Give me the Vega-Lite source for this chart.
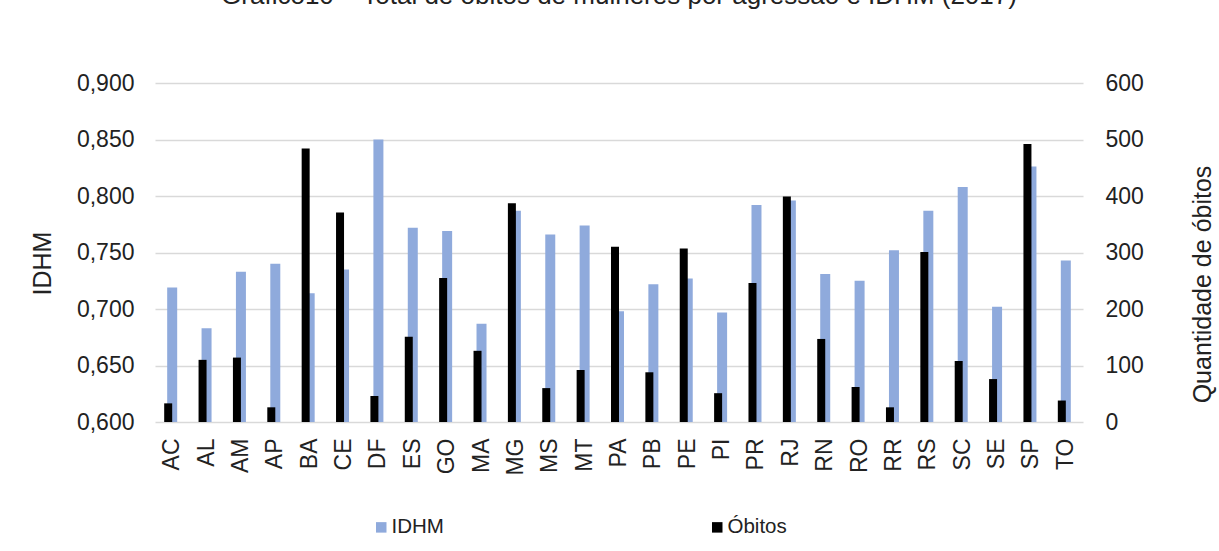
{
  "$schema": "https://vega.github.io/schema/vega-lite/v6.json",
  "autosize": {"type": "none"},
  "width": 928,
  "height": 339,
  "padding": {"left": 155, "top": 83, "right": 136, "bottom": 129},
  "background": "white",
  "title": {
    "text": "Gráfico10 – Total de óbitos de mulheres por agressão e IDHM (2017)",
    "anchor": "middle",
    "fontSize": 26,
    "fontWeight": "normal",
    "color": "#222222",
    "offset": 63
  },
  "config": {
    "font": "Liberation Sans",
    "view": {"stroke": null},
    "axis": {
      "labelColor": "#222222",
      "titleColor": "#222222",
      "titleFontWeight": "normal",
      "domain": false,
      "ticks": false
    }
  },
  "data": {
    "values": [
      {"uf": "AC", "idhm": 0.719, "obitos": 33},
      {"uf": "AL", "idhm": 0.683, "obitos": 110},
      {"uf": "AM", "idhm": 0.733, "obitos": 114},
      {"uf": "AP", "idhm": 0.740, "obitos": 26},
      {"uf": "BA", "idhm": 0.714, "obitos": 484},
      {"uf": "CE", "idhm": 0.735, "obitos": 371},
      {"uf": "DF", "idhm": 0.850, "obitos": 46},
      {"uf": "ES", "idhm": 0.772, "obitos": 151},
      {"uf": "GO", "idhm": 0.769, "obitos": 255},
      {"uf": "MA", "idhm": 0.687, "obitos": 126},
      {"uf": "MG", "idhm": 0.787, "obitos": 387},
      {"uf": "MS", "idhm": 0.766, "obitos": 60},
      {"uf": "MT", "idhm": 0.774, "obitos": 92},
      {"uf": "PA", "idhm": 0.698, "obitos": 310},
      {"uf": "PB", "idhm": 0.722, "obitos": 88},
      {"uf": "PE", "idhm": 0.727, "obitos": 307},
      {"uf": "PI", "idhm": 0.697, "obitos": 51},
      {"uf": "PR", "idhm": 0.792, "obitos": 246},
      {"uf": "RJ", "idhm": 0.796, "obitos": 399},
      {"uf": "RN", "idhm": 0.731, "obitos": 147},
      {"uf": "RO", "idhm": 0.725, "obitos": 62},
      {"uf": "RR", "idhm": 0.752, "obitos": 26},
      {"uf": "RS", "idhm": 0.787, "obitos": 301},
      {"uf": "SC", "idhm": 0.808, "obitos": 108},
      {"uf": "SE", "idhm": 0.702, "obitos": 76},
      {"uf": "SP", "idhm": 0.826, "obitos": 492},
      {"uf": "TO", "idhm": 0.743, "obitos": 38}
    ]
  },
  "encoding": {
    "x": {
      "field": "uf",
      "type": "nominal",
      "sort": null,
      "scale": {"paddingInner": 0, "paddingOuter": 0},
      "axis": {
        "title": null,
        "labelAngle": -90,
        "labelFontSize": 23,
        "labelPadding": 16,
        "grid": false
      }
    }
  },
  "layer": [
    {
      "mark": {"type": "bar", "width": 10, "xOffset": 0, "clip": true},
      "encoding": {
        "y": {
          "field": "idhm",
          "type": "quantitative",
          "scale": {"domain": [0.6, 0.9], "zero": false, "nice": false},
          "axis": {
            "orient": "left",
            "values": [0.6, 0.65, 0.7, 0.75, 0.8, 0.85, 0.9],
            "labelExpr": "replace(format(datum.value, '.3f'), '.', ',')",
            "labelFontSize": 23,
            "labelPadding": 21,
            "grid": true,
            "gridColor": "#d9d9d9",
            "gridWidth": 1.7,
            "title": "IDHM",
            "titleFontSize": 25,
            "titleAngle": -90,
            "titleAlign": "center",
            "titleBaseline": "middle",
            "titleX": -113,
            "titleY": 180
          }
        },
        "y2": {"datum": 0.6},
        "color": {
          "datum": "IDHM",
          "scale": {"domain": ["IDHM", "Óbitos"], "range": ["#8faadc", "#000000"]},
          "legend": {
            "title": null,
            "orient": "none",
            "direction": "horizontal",
            "legendX": 216,
            "legendY": 434,
            "symbolType": "square",
            "symbolSize": 110,
            "symbolStrokeWidth": 0,
            "labelFontSize": 20.5,
            "labelColor": "#222222",
            "labelOffset": 0,
            "columnPadding": 263
          }
        }
      }
    },
    {
      "mark": {"type": "bar", "width": 8, "xOffset": -4},
      "encoding": {
        "y": {
          "field": "obitos",
          "type": "quantitative",
          "scale": {"domain": [0, 600], "nice": false},
          "axis": {
            "orient": "right",
            "values": [0, 100, 200, 300, 400, 500, 600],
            "labelFontSize": 23,
            "labelPadding": 22,
            "grid": false,
            "title": "Quantidade de óbitos",
            "titleFontSize": 25,
            "titleAngle": -90,
            "titleAlign": "center",
            "titleBaseline": "middle",
            "titleX": 119,
            "titleY": 201
          }
        },
        "color": {"datum": "Óbitos"}
      }
    }
  ],
  "resolve": {"scale": {"y": "independent"}, "axis": {"y": "independent"}}
}
